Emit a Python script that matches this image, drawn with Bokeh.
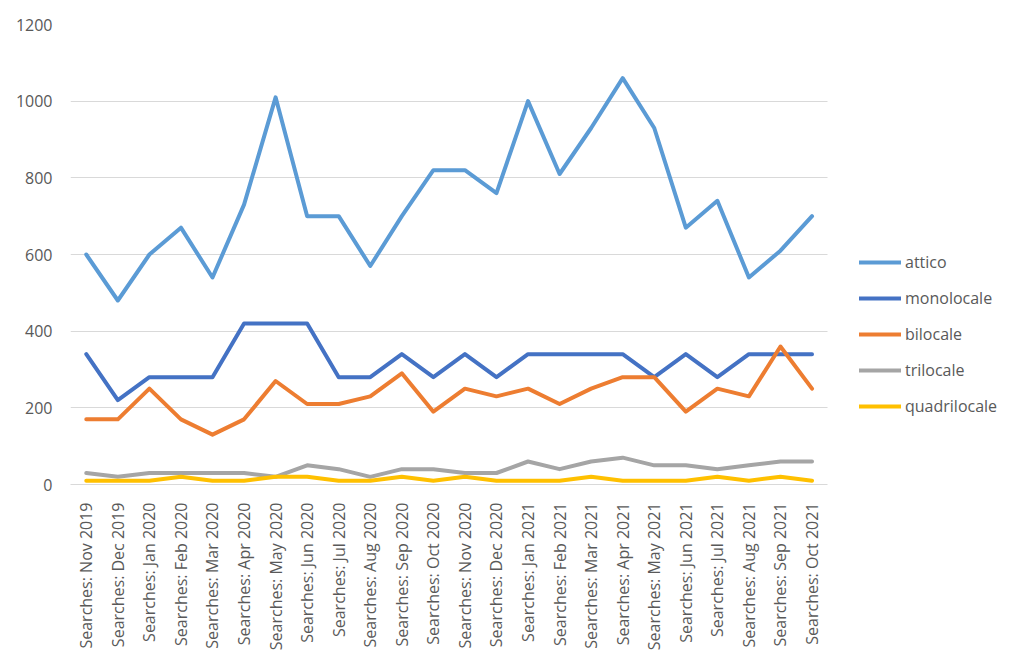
import math
from bokeh.plotting import figure
from bokeh.models import Range1d, FixedTicker, Legend, LegendItem
from bokeh.embed import file_html
from bokeh.resources import INLINE

months = ["Nov 2019", "Dec 2019", "Jan 2020", "Feb 2020", "Mar 2020", "Apr 2020",
          "May 2020", "Jun 2020", "Jul 2020", "Aug 2020", "Sep 2020", "Oct 2020",
          "Nov 2020", "Dec 2020", "Jan 2021", "Feb 2021", "Mar 2021", "Apr 2021",
          "May 2021", "Jun 2021", "Jul 2021", "Aug 2021", "Sep 2021", "Oct 2021"]
categories = ["Searches: " + m for m in months]

attico = [600, 480, 600, 670, 540, 730, 1010, 700, 700, 570, 700, 820,
          820, 760, 1000, 810, 930, 1060, 930, 670, 740, 540, 610, 700]
monolocale = [340, 220, 280, 280, 280, 420, 420, 420, 280, 280, 340, 280,
              340, 280, 340, 340, 340, 340, 280, 340, 280, 340, 340, 340]
bilocale = [170, 170, 250, 170, 130, 170, 270, 210, 210, 230, 290, 190,
            250, 230, 250, 210, 250, 280, 280, 190, 250, 230, 360, 250]
trilocale = [30, 20, 30, 30, 30, 30, 20, 50, 40, 20, 40, 40,
             30, 30, 60, 40, 60, 70, 50, 50, 40, 50, 60, 60]
quadrilocale = [10, 10, 10, 20, 10, 10, 20, 20, 10, 10, 20, 10,
                20, 10, 10, 10, 20, 10, 10, 10, 20, 10, 20, 10]

series_names = ["attico", "monolocale", "bilocale", "trilocale", "quadrilocale"]
series_values = [attico, monolocale, bilocale, trilocale, quadrilocale]
series_colors = ["#5B9BD5", "#4472C4", "#ED7D31", "#A5A5A5", "#FFC000"]
y_ticks = [0, 200, 400, 600, 800, 1000, 1200]

FONT = "Open Sans"
TXT = "#595959"

# category positions on a numeric scale (one unit per category)
x_idx = list(range(len(categories)))
n = len(categories)

W, H = 1008, 653
LEFT, RIGHT, TOP, BOTTOM = 70, 8, 24, 166
plot_px = 757.3  # width occupied by the categories
frame_w = W - LEFT - RIGHT
x_end = -0.5 + n * frame_w / plot_px

p = figure(width=W, height=H, output_backend="svg", toolbar_location=None,
           x_range=Range1d(-0.5, x_end), y_range=Range1d(0, 1200))
p.min_border_left = LEFT
p.min_border_right = RIGHT
p.min_border_top = TOP
p.min_border_bottom = BOTTOM
p.outline_line_color = None
p.background_fill_color = "white"
p.border_fill_color = "white"

p.xgrid.grid_line_color = None
p.ygrid.grid_line_color = "#D9D9D9"
p.ygrid.grid_line_width = 1
p.ygrid.cross_bounds = (-0.5, n - 0.5)
p.yaxis.ticker = FixedTicker(ticks=y_ticks)

p.yaxis.axis_line_color = None
p.yaxis.major_tick_line_color = None
p.yaxis.minor_tick_line_color = None
p.yaxis.major_label_standoff = 12
p.yaxis.major_label_text_font = FONT
p.yaxis.major_label_text_font_size = "16px"
p.yaxis.major_label_text_color = TXT

p.xaxis.ticker = FixedTicker(ticks=x_idx)
p.xaxis.major_label_overrides = {i: c for i, c in zip(x_idx, categories)}
p.xaxis.bounds = (-0.5, n - 0.5)
p.xaxis.axis_line_color = "#D9D9D9"
p.xaxis.major_tick_line_color = None
p.xaxis.minor_tick_line_color = None
p.xaxis.major_label_orientation = math.pi / 2
p.xaxis.major_label_standoff = 12
p.xaxis.major_label_text_font = FONT
p.xaxis.major_label_text_font_size = "16px"
p.xaxis.major_label_text_color = TXT

items = []
for name, vals, col in zip(series_names, series_values, series_colors):
    r = p.line(x_idx, vals, line_color=col, line_width=4,
               line_join="round", line_cap="round")
    items.append(LegendItem(label=name, renderers=[r]))

legend = Legend(items=items, location=(789, 67))
legend.glyph_width = 42
legend.glyph_height = 22
legend.label_height = 22
legend.label_standoff = 4
legend.spacing = 14
legend.padding = 0
legend.margin = 0
legend.border_line_color = None
legend.background_fill_alpha = 0
legend.label_text_font = FONT
legend.label_text_font_size = "16px"
legend.label_text_color = TXT
p.add_layout(legend, "center")

open("out.html", "w").write(file_html(p, INLINE))
